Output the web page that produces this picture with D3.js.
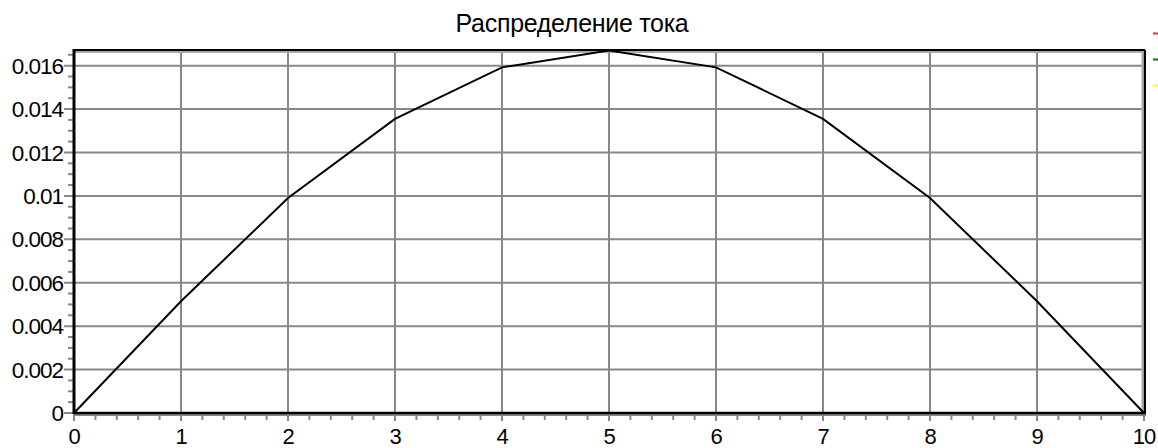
<!DOCTYPE html>
<html><head><meta charset="utf-8">
<script src="https://cdn.jsdelivr.net/npm/d3@7"></script>
<style>body{margin:0;background:#fff}svg{display:block}text{font-family:"Liberation Sans",Arial,sans-serif}</style>
</head><body><svg id="c" width="1158" height="448"></svg>
<script>
const title = "Распределение тока";
const xValues = [0,1,2,3,4,5,6,7,8,9,10];
const current = [0,0.00515,0.0099,0.01355,0.01592,0.0167,0.01592,0.01355,0.0099,0.00515,0];
const yTicks = [0,0.002,0.004,0.006,0.008,0.01,0.012,0.014,0.016];
const xTicks = [0,1,2,3,4,5,6,7,8,9,10];
const legendColors = ["#ff2020","#008000","#ffff00"];

const svg = d3.select("#c");
const L=74,R=1144,T=50,B=413;
const x = d3.scaleLinear().domain([0,10]).range([L,R]);
const y = d3.scaleLinear().domain([0,0.01672]).range([B,T]);
const grid="#888";

// grid
svg.append("g").selectAll("line").data(xTicks).join("line")
  .attr("x1",d=>x(d)).attr("x2",d=>x(d)).attr("y1",T).attr("y2",B+8)
  .attr("stroke",grid).attr("stroke-width",2);
svg.append("g").selectAll("line").data(yTicks).join("line")
  .attr("x1",L-10).attr("x2",R).attr("y1",d=>y(d)).attr("y2",d=>y(d))
  .attr("stroke",grid).attr("stroke-width",2);

// minor ticks
const yMinor=d3.range(0,0.01672,0.0005).filter(v=>Math.abs(v/0.002-Math.round(v/0.002))>1e-6);
svg.append("g").selectAll("line").data(yMinor).join("line")
  .attr("x1",L-6).attr("x2",L).attr("y1",d=>y(d)).attr("y2",d=>y(d))
  .attr("stroke",grid).attr("stroke-width",2);
const xMinor=d3.range(0,10,0.2).filter(v=>Math.abs(v-Math.round(v))>1e-6);
svg.append("g").selectAll("line").data(xMinor).join("line")
  .attr("x1",d=>x(d)).attr("x2",d=>x(d)).attr("y1",B).attr("y2",B+7)
  .attr("stroke",grid).attr("stroke-width",2);

// frame
svg.append("line").attr("x1",L).attr("x2",R).attr("y1",T+2).attr("y2",T+2).attr("stroke","#aaa").attr("stroke-width",2);
svg.append("line").attr("x1",R-1.5).attr("x2",R-1.5).attr("y1",T).attr("y2",B).attr("stroke","#aaa").attr("stroke-width",2);
svg.append("line").attr("x1",L).attr("x2",R+1).attr("y1",T).attr("y2",T).attr("stroke","#000").attr("stroke-width",2);
svg.append("line").attr("x1",R+1).attr("x2",R+1).attr("y1",T).attr("y2",B).attr("stroke","#000").attr("stroke-width",2);
svg.append("line").attr("x1",L).attr("x2",R+2).attr("y1",B+2).attr("y2",B+2).attr("stroke","#888").attr("stroke-width",2);
svg.append("line").attr("x1",L).attr("x2",R+2).attr("y1",B).attr("y2",B).attr("stroke","#000").attr("stroke-width",2.5);
svg.append("line").attr("x1",L).attr("x2",L).attr("y1",T-1).attr("y2",B+1).attr("stroke","#000").attr("stroke-width",3);

// line
svg.append("path").datum(xValues.map((v,i)=>[v,current[i]]))
  .attr("d",d3.line().x(d=>x(d[0])).y(d=>y(d[1])))
  .attr("fill","none").attr("stroke","#000").attr("stroke-width",2);

// labels
const fmt=d=>d===0?"0":String(+d.toFixed(3));
svg.append("g").selectAll("text").data(yTicks).join("text")
  .attr("x",L-11).attr("y",d=>y(d)).attr("dy","0.36em").attr("text-anchor","end")
  .attr("font-size",22.5).attr("letter-spacing","-1").text(fmt);
svg.append("g").selectAll("text").data(xTicks).join("text")
  .attr("x",d=>x(d)).attr("y",444).attr("text-anchor","middle")
  .attr("font-size",22).attr("letter-spacing","-1").text(d=>d);
svg.append("text").attr("x",572).attr("y",32).attr("text-anchor","middle")
  .attr("font-size",25).attr("letter-spacing","-0.3").text(title);

// legend dashes
svg.append("g").selectAll("line").data(legendColors).join("line")
  .attr("x1",1153).attr("x2",1158).attr("y1",(d,i)=>33.5+i*26).attr("y2",(d,i)=>33.5+i*26)
  .attr("stroke",d=>d).attr("stroke-width",2);
</script></body></html>
